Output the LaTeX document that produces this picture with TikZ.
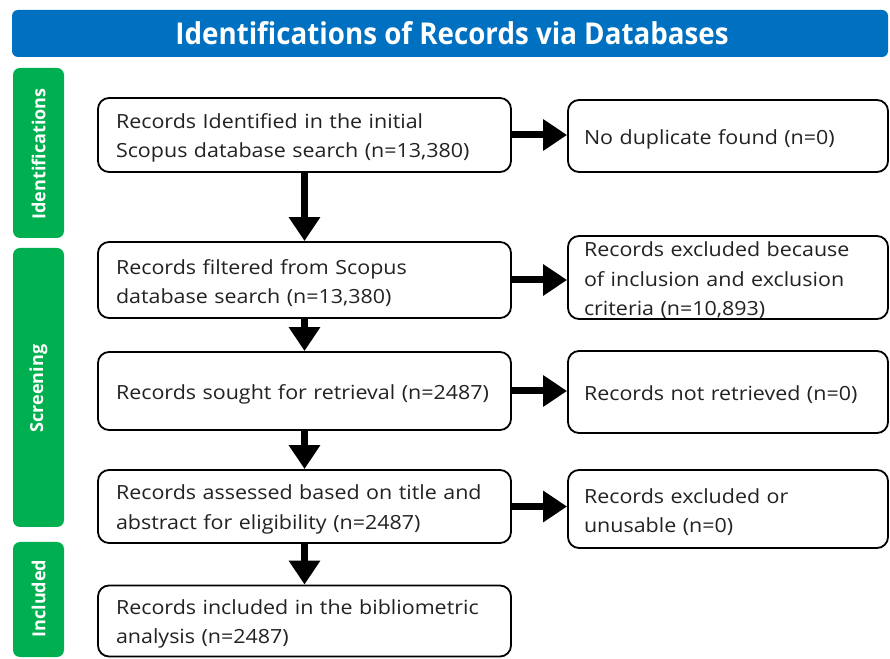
\documentclass[tikz,border=0pt]{standalone}
\usepackage{fontspec}
\usepackage{graphicx}
\setmainfont{Open Sans}
\newfontfamily\boxfont{Open Sans}[FakeStretch=1.1]
\usetikzlibrary{arrows.meta}
\definecolor{hdrblue}{HTML}{0070C0}
\definecolor{stagegreen}{HTML}{00B050}
\definecolor{txt}{HTML}{222222}
\tikzset{
  x=1pt, y=1pt,
  header/.style={fill=hdrblue, rounded corners=6pt, draw=none},
  stage/.style={fill=stagegreen, rounded corners=7pt, draw=none},
  stagelabel/.style={text=white, font=\fontsize{18}{21}\selectfont\bfseries, rotate=90},
  recbox/.style={draw=black, line width=1.8pt, rounded corners=11pt, fill=white, inner sep=0pt},
  mainbox/.style={recbox, minimum width=413pt},
  sidebox/.style={recbox, minimum width=320pt},
  boxtext/.style={text=txt, align=left, inner sep=0pt,
    font=\boxfont\fontsize{19.5}{29.5}\selectfont},
  maintext/.style={boxtext, text width=377pt},
  sidetext/.style={boxtext, text width=288pt},
  flow/.style={line width=7pt, -{Triangle[length=24pt, width=30pt]}, black}
}
\begin{document}
\begin{tikzpicture}
\useasboundingbox (0,0) rectangle (890,658);

% title banner
\fill[header] (12,601) rectangle (888,648);
\node[text=white, inner sep=0pt] (title) at (452,625)
  {\resizebox{553pt}{23pt}{\bfseries Identifications of Records via Databases}};

% stage bars
\fill[stage] (13,420) rectangle (64,590);
\node[stagelabel] (lid) at (38.5,504) {Identifications};
\fill[stage] (13,131) rectangle (64,410);
\node[stagelabel] (lsc) at (38.5,269.5) {Screening};
\fill[stage] (13,1) rectangle (64,116);
\node[stagelabel] (lin) at (38.5,59.5) {Included};

% main column
\node[mainbox, minimum height=74pt] (b1) at (304.5,523) {};
\node[maintext] (b1t) at ([yshift=-3pt]b1.center)
  {Records Identified in the initial\\Scopus database search (n=13,380)};
\node[mainbox, minimum height=76pt] (b2) at (304.5,378) {};
\node[maintext] (b2t) at ([yshift=-3pt]b2.center)
  {Records filtered from Scopus\\database search (n=13,380)};
\node[mainbox, minimum height=78pt] (b3) at (304.5,267) {};
\node[maintext] (b3t) at ([yshift=-3pt]b3.center)
  {Records sought for retrieval (n=2487)};
\node[mainbox, minimum height=73pt] (b4) at (304.5,151.5) {};
\node[maintext] (b4t) at ([yshift=-3pt]b4.center)
  {Records assessed based on title and\\abstract for eligibility (n=2487)};
\node[mainbox, minimum height=71pt] (b5) at (304.5,37) {};
\node[maintext] (b5t) at ([yshift=-3pt]b5.center)
  {Records included in the bibliometric\\analysis (n=2487)};

% side column
\node[sidebox, minimum height=72pt] (r1) at (728,522) {};
\node[sidetext] (r1t) at ([yshift=-3pt]r1.center)
  {No duplicate found (n=0)};
\node[sidebox, minimum height=83pt] (r2) at (728,380.5) {};
\node[sidetext] (r2t) at ([yshift=-3pt]r2.center)
  {Records excluded because\\of inclusion and exclusion\\criteria (n=10,893)};
\node[sidebox, minimum height=82pt] (r3) at (728,266) {};
\node[sidetext] (r3t) at ([yshift=-3pt]r3.center)
  {Records not retrieved (n=0)};
\node[sidebox, minimum height=78pt] (r4) at (728,149) {};
\node[sidetext] (r4t) at ([yshift=-3pt]r4.center)
  {Records excluded or\\unusable (n=0)};

% downward flow
\draw[flow] (b1.south) -- (b2.north);
\draw[flow] (b2.south) -- (b3.north);
\draw[flow] (b3.south) -- (b4.north);
\draw[flow] (b4.south) -- (b5.north);

% exclusions
\draw[flow] (b1.east) -- (b1.east -| r1.west);
\draw[flow] (b2.east) -- (b2.east -| r2.west);
\draw[flow] (b3.east) -- (b3.east -| r3.west);
\draw[flow] (b4.east) -- (b4.east -| r4.west);
\end{tikzpicture}
\end{document}
